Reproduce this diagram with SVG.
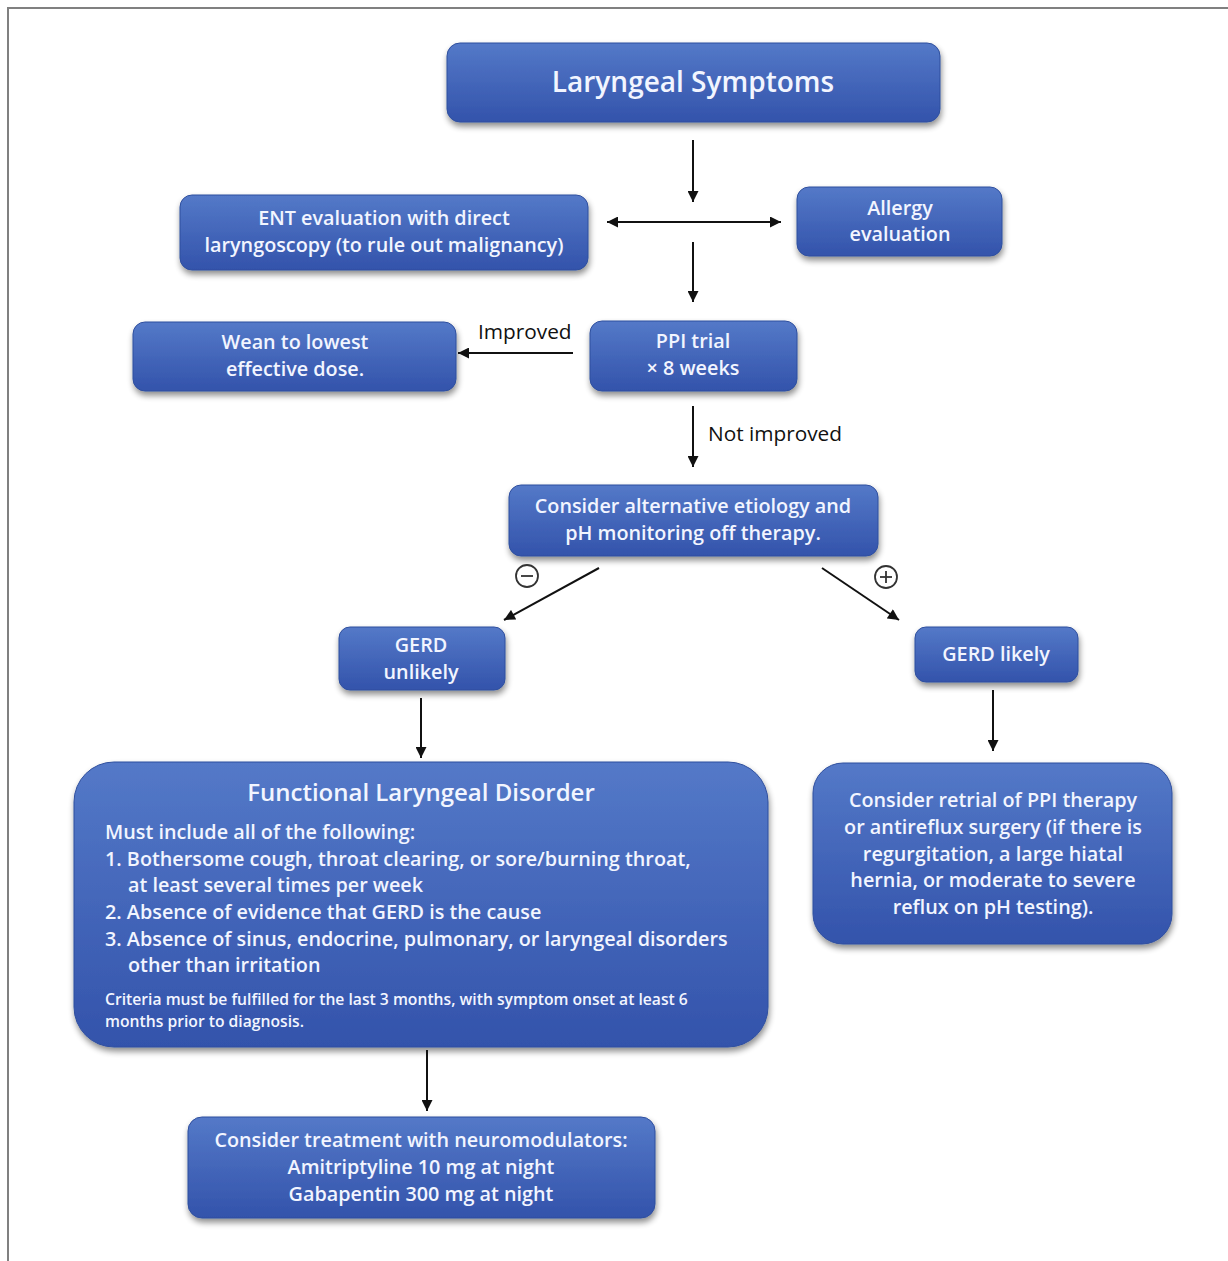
<svg xmlns="http://www.w3.org/2000/svg" width="1228" height="1261" viewBox="0 0 1228 1261">
<defs>
<linearGradient id="g" x1="0" y1="0" x2="0" y2="1">
<stop offset="0" stop-color="#5479c8"/>
<stop offset="1" stop-color="#3353ab"/>
</linearGradient>
<filter id="sh" x="-10%" y="-10%" width="120%" height="130%">
<feGaussianBlur in="SourceAlpha" stdDeviation="3"/>
<feOffset dx="1" dy="4" result="b"/>
<feComponentTransfer><feFuncA type="linear" slope="0.45"/></feComponentTransfer>
<feMerge><feMergeNode/><feMergeNode in="SourceGraphic"/></feMerge>
</filter>
<marker id="ah" viewBox="0 0 10 10" refX="10" refY="5" markerWidth="6" markerHeight="5.5" markerUnits="strokeWidth" orient="auto-start-reverse">
<path d="M0,0 L10,5 L0,10 z" fill="#111"/>
</marker>
</defs>
<style>
.box{fill:url(#g);stroke:#2f4f9e;stroke-width:1;filter:url(#sh)}
.t{font-family:"Open Sans",Lato,"Liberation Sans",sans-serif;font-weight:600;fill:#f2f5ff;text-anchor:middle;font-size:19.8px}
.tl{text-anchor:start}
.lbl{font-family:"Open Sans",Lato,"Liberation Sans",sans-serif;font-size:20.8px;fill:#111}
.c{stroke:#111;stroke-width:2;fill:none;marker-end:url(#ah)}
.sym{stroke:#333;stroke-width:1.8;fill:none}
</style>
<rect width="1228" height="1261" fill="#fff"/>
<path d="M8,1261 V8 H1228" fill="none" stroke="#808080" stroke-width="2"/>

<g id="n-laryngeal">
<rect class="box" x="447" y="43" width="493" height="79" rx="13"/>
<text class="t" x="693" y="92" style="font-size:28px">Laryngeal Symptoms</text>
</g>
<g id="n-ent">
<rect class="box" x="180" y="195" width="408" height="75" rx="12"/>
<text class="t" x="384" y="225">ENT evaluation with direct</text>
<text class="t" x="384" y="252">laryngoscopy (to rule out malignancy)</text>
</g>
<g id="n-allergy">
<rect class="box" x="797" y="187" width="205" height="69" rx="12"/>
<text class="t" x="900" y="215">Allergy</text>
<text class="t" x="900" y="241">evaluation</text>
</g>
<g id="n-ppi">
<rect class="box" x="590" y="321" width="207" height="70" rx="12"/>
<text class="t" x="693" y="348">PPI trial</text>
<text class="t" x="693" y="375">× 8 weeks</text>
</g>
<g id="n-wean">
<rect class="box" x="133" y="322" width="323" height="69" rx="12"/>
<text class="t" x="295" y="349">Wean to lowest</text>
<text class="t" x="295" y="376">effective dose.</text>
</g>
<g id="n-alt">
<rect class="box" x="509" y="485" width="369" height="71" rx="12"/>
<text class="t" x="693" y="513">Consider alternative etiology and</text>
<text class="t" x="693" y="540">pH monitoring off therapy.</text>
</g>
<g id="n-unlikely">
<rect class="box" x="339" y="627" width="166" height="63" rx="11"/>
<text class="t" x="421" y="652">GERD</text>
<text class="t" x="421" y="679">unlikely</text>
</g>
<g id="n-likely">
<rect class="box" x="915" y="627" width="163" height="55" rx="11"/>
<text class="t" x="996" y="661">GERD likely</text>
</g>
<g id="n-functional">
<rect class="box" x="74" y="762" width="694" height="285" rx="40"/>
<text class="t" x="421" y="801" style="font-size:24px">Functional Laryngeal Disorder</text>
<text class="t tl" x="105" y="839">Must include all of the following:</text>
<text class="t tl" x="105" y="866">1. Bothersome cough, throat clearing, or sore/burning throat,</text>
<text class="t tl" x="128" y="892">at least several times per week</text>
<text class="t tl" x="105" y="919">2. Absence of evidence that GERD is the cause</text>
<text class="t tl" x="105" y="946">3. Absence of sinus, endocrine, pulmonary, or laryngeal disorders</text>
<text class="t tl" x="128" y="972">other than irritation</text>
<text class="t tl" x="105" y="1005" style="font-size:15.7px">Criteria must be fulfilled for the last 3 months, with symptom onset at least 6</text>
<text class="t tl" x="105" y="1027" style="font-size:15.7px">months prior to diagnosis.</text>
</g>
<g id="n-retrial">
<rect class="box" x="813" y="763" width="359" height="181" rx="30"/>
<text class="t" x="993" y="807">Consider retrial of PPI therapy</text>
<text class="t" x="993" y="834">or antireflux surgery (if there is</text>
<text class="t" x="993" y="861">regurgitation, a large hiatal</text>
<text class="t" x="993" y="887">hernia, or moderate to severe</text>
<text class="t" x="993" y="914">reflux on pH testing).</text>
</g>
<g id="n-neuro">
<rect class="box" x="188" y="1117" width="467" height="101" rx="14"/>
<text class="t" x="421" y="1147">Consider treatment with neuromodulators:</text>
<text class="t" x="421" y="1174">Amitriptyline 10 mg at night</text>
<text class="t" x="421" y="1201">Gabapentin 300 mg at night</text>
</g>

<g id="connectors">
<line class="c" x1="693" y1="140" x2="693" y2="202"/>
<line class="c" x1="781" y1="222" x2="607" y2="222" style="marker-start:url(#ah)"/>
<line class="c" x1="693" y1="242" x2="693" y2="302"/>
<line class="c" x1="573" y1="353" x2="458" y2="353"/>
<text class="lbl" x="478" y="339">Improved</text>
<line class="c" x1="693" y1="406" x2="693" y2="467"/>
<text class="lbl" x="708" y="441">Not improved</text>
<line class="c" x1="599" y1="568" x2="504" y2="620"/>
<line class="c" x1="822" y1="568" x2="899" y2="620"/>
<circle class="sym" cx="527" cy="576" r="11"/>
<line class="sym" x1="521" y1="576" x2="533" y2="576"/>
<circle class="sym" cx="886" cy="577" r="11"/>
<line class="sym" x1="880" y1="577" x2="892" y2="577"/>
<line class="sym" x1="886" y1="571" x2="886" y2="583"/>
<line class="c" x1="421" y1="698" x2="421" y2="758"/>
<line class="c" x1="993" y1="690" x2="993" y2="751"/>
<line class="c" x1="427" y1="1050" x2="427" y2="1111"/>
</g>
</svg>
